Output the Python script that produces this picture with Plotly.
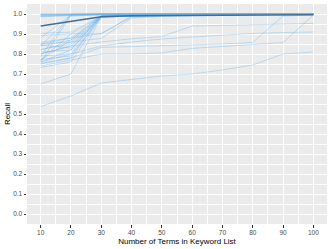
import plotly.graph_objects as go

terms = [10, 20, 30, 40, 50, 60, 70, 80, 90, 100]

# individual runs (recall per keyword-list size)
run01 = [1.000, 1.000, 1.000, 1.000, 1.000, 1.000, 1.000, 1.000, 1.000, 1.000]
run02 = [0.997, 1.000, 1.000, 1.000, 1.000, 1.000, 1.000, 1.000, 1.000, 1.000]
run03 = [0.993, 0.998, 1.000, 1.000, 1.000, 1.000, 1.000, 1.000, 1.000, 1.000]
run04 = [0.990, 0.995, 0.998, 1.000, 1.000, 1.000, 1.000, 1.000, 1.000, 1.000]
run05 = [0.986, 0.993, 0.997, 0.999, 1.000, 1.000, 1.000, 1.000, 1.000, 1.000]
run06 = [0.787, 1.000, 1.000, 1.000, 1.000, 1.000, 1.000, 1.000, 1.000, 1.000]
run07 = [0.760, 0.995, 0.998, 1.000, 1.000, 1.000, 1.000, 1.000, 1.000, 1.000]
run08 = [0.840, 0.990, 0.995, 0.998, 1.000, 1.000, 1.000, 1.000, 1.000, 1.000]
run09 = [0.880, 0.995, 0.998, 1.000, 1.000, 1.000, 1.000, 1.000, 1.000, 1.000]
run10 = [0.903, 0.910, 0.990, 0.995, 0.997, 0.998, 1.000, 1.000, 1.000, 1.000]
run11 = [0.893, 0.900, 0.988, 0.993, 0.995, 0.997, 0.998, 1.000, 1.000, 1.000]
run12 = [0.858, 0.880, 0.990, 0.994, 0.996, 0.998, 1.000, 1.000, 1.000, 1.000]
run13 = [0.850, 0.860, 0.985, 0.990, 0.993, 0.995, 0.997, 0.998, 1.000, 1.000]
run14 = [0.845, 0.830, 0.990, 0.995, 0.997, 0.998, 1.000, 1.000, 1.000, 1.000]
run15 = [0.840, 0.870, 0.990, 0.994, 0.996, 0.998, 1.000, 1.000, 1.000, 1.000]
run16 = [0.823, 0.850, 0.985, 0.990, 0.993, 0.995, 0.997, 0.998, 1.000, 1.000]
run17 = [0.810, 0.820, 0.990, 0.995, 0.997, 0.998, 1.000, 1.000, 1.000, 1.000]
run18 = [0.800, 0.840, 0.988, 0.993, 0.995, 0.997, 0.998, 1.000, 1.000, 1.000]
run19 = [0.790, 0.800, 0.990, 0.994, 0.996, 0.998, 1.000, 1.000, 1.000, 1.000]
run20 = [0.773, 0.790, 0.985, 0.990, 0.993, 0.995, 0.997, 0.998, 1.000, 1.000]
run21 = [0.760, 0.820, 0.990, 0.995, 0.997, 0.998, 1.000, 1.000, 1.000, 1.000]
run22 = [0.753, 0.780, 0.990, 0.994, 0.996, 0.998, 1.000, 1.000, 1.000, 1.000]
run23 = [0.732, 0.760, 0.985, 0.990, 0.993, 0.995, 0.997, 0.998, 1.000, 1.000]
run24 = [0.650, 0.700, 0.985, 0.990, 0.993, 0.995, 0.997, 0.998, 1.000, 1.000]
run25 = [0.770, 0.870, 0.990, 0.994, 0.996, 0.998, 1.000, 1.000, 1.000, 1.000]
run26 = [0.770, 0.900, 0.900, 0.990, 0.994, 0.996, 0.998, 1.000, 1.000, 1.000]
run27 = [0.850, 0.880, 0.903, 0.985, 0.990, 0.993, 0.995, 0.997, 0.998, 1.000]
run28 = [0.820, 0.860, 0.878, 0.980, 0.988, 0.992, 0.995, 0.997, 0.998, 1.000]
run29 = [0.800, 0.840, 0.860, 0.876, 0.887, 0.940, 0.943, 0.946, 0.950, 0.953]
run30 = [0.760, 0.800, 0.840, 0.860, 0.875, 0.885, 0.895, 0.903, 0.907, 0.910]
run31 = [0.750, 0.780, 0.833, 0.837, 0.840, 0.845, 0.850, 0.858, 0.990, 0.995]
run32 = [0.740, 0.770, 0.800, 0.800, 0.806, 0.828, 0.838, 0.848, 0.857, 0.995]
run33 = [0.537, 0.590, 0.655, 0.673, 0.690, 0.700, 0.720, 0.745, 0.800, 0.810]
run34 = [0.998, 1.000, 1.000, 1.000, 1.000, 1.000, 1.000, 1.000, 1.000, 1.000]
run35 = [0.995, 0.999, 1.000, 1.000, 1.000, 1.000, 1.000, 1.000, 1.000, 1.000]
run36 = [0.988, 0.996, 0.999, 1.000, 1.000, 1.000, 1.000, 1.000, 1.000, 1.000]

runs = [run01, run02, run03, run04, run05, run06, run07, run08, run09, run10,
        run11, run12, run13, run14, run15, run16, run17, run18, run19, run20,
        run21, run22, run23, run24, run25, run26, run27, run28, run29, run30,
        run31, run32, run33, run34, run35, run36]

mean_recall = [0.940, 0.963, 0.986, 0.991, 0.992, 0.992, 0.993, 0.993, 0.994, 0.996]

x_ticks = [10, 20, 30, 40, 50, 60, 70, 80, 90, 100]
y_ticks = [0.0, 0.1, 0.2, 0.3, 0.4, 0.5, 0.6, 0.7, 0.8, 0.9, 1.0]
y_tick_labels = ["0.0", "0.1", "0.2", "0.3", "0.4", "0.5", "0.6", "0.7", "0.8", "0.9", "1.0"]

fig = go.Figure()
for r in runs:
    fig.add_trace(go.Scatter(x=terms, y=r, mode="lines",
                             line=dict(color="rgba(110,180,235,0.55)", width=0.7),
                             hoverinfo="skip", showlegend=False))
fig.add_trace(go.Scatter(x=terms, y=mean_recall, mode="lines",
                         line=dict(color="#3d6f9c", width=1.6),
                         showlegend=False))

axis_common = dict(
    showgrid=True, gridcolor="white", gridwidth=0.9,
    zeroline=False, showline=False,
    ticks="outside", ticklen=2.5, tickwidth=0.6, tickcolor="#333333",
    tickfont=dict(family="Liberation Sans, Arial", size=6.5, color="#4d4d4d"),
)

fig.update_layout(
    width=332, height=249,
    margin=dict(l=27, r=5, t=4, b=25),
    paper_bgcolor="white", plot_bgcolor="#ebebeb",
    font=dict(family="Liberation Sans, Arial", color="black"),
    xaxis=dict(range=[5.5, 104.5], tickvals=x_ticks,
               minor=dict(tick0=5, dtick=10, showgrid=True, gridcolor="white", gridwidth=0.45, ticklen=0),
               title=dict(text="Number of Terms in Keyword List", font=dict(size=8), standoff=3),
               **axis_common),
    yaxis=dict(range=[-0.05, 1.05], tickvals=y_ticks, ticktext=y_tick_labels,
               minor=dict(tick0=0.05, dtick=0.1, showgrid=True, gridcolor="white", gridwidth=0.45, ticklen=0),
               title=dict(text="Recall", font=dict(size=8), standoff=1),
               **axis_common),
)

fig.write_html("out.html", config={"displayModeBar": False},
               post_script="document.body.style.margin='0';document.body.style.overflow='hidden';")
